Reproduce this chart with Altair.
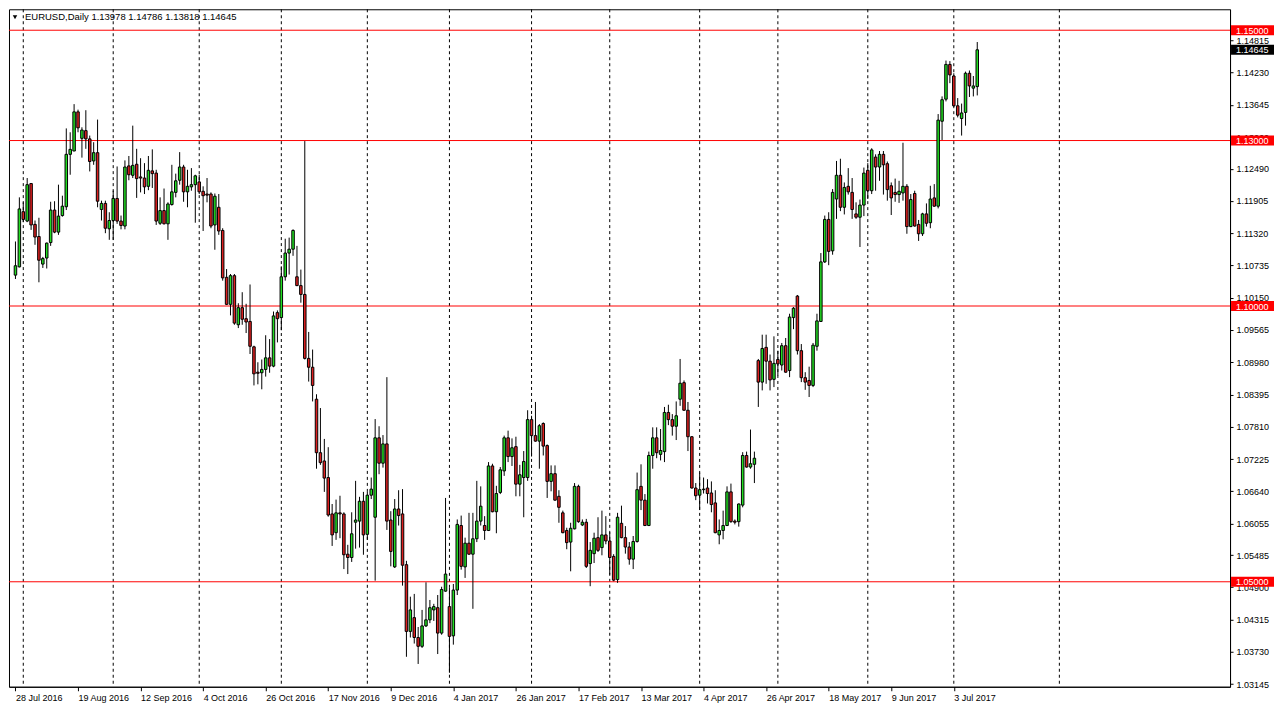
import altair as alt
import pandas as pd

# ---------------- data ----------------
opens = [1.1056,1.1071,1.1171,1.1154,1.1222,1.1148,1.1126,1.1076,1.1087,1.1115,
1.1174,1.1134,1.1164,1.1180,1.1275,1.1281,1.1352,1.1304,1.1318,1.1303,
1.1263,1.1278,1.1175,1.1186,1.1140,1.1155,1.1195,1.1154,1.1145,1.1254,
1.1237,1.1257,1.1234,1.1232,1.1217,1.1245,1.1241,1.1150,1.1173,1.1149,
1.1184,1.1206,1.1228,1.1252,1.1207,1.1216,1.1220,1.1225,1.1208,1.1203,
1.1203,1.1147,1.1179,1.1137,1.1052,1.1003,1.1055,1.0966,1.0997,1.0977,
1.0972,1.0926,1.0880,1.0879,1.0885,1.0906,1.0891,1.0988,1.0979,1.1053,
1.1096,1.1103,1.1053,1.1037,1.1021,1.0905,1.0889,1.0831,1.0734,1.0719,
1.0689,1.0623,1.0589,1.0625,1.0623,1.0550,1.0544,1.0608,1.0610,1.0646,
1.0586,1.0657,1.0617,1.0761,1.0715,1.0750,1.0612,1.0527,1.0632,1.0623,
1.0531,1.0410,1.0435,1.0399,1.0383,1.0420,1.0431,1.0449,1.0453,1.0407,
1.0483,1.0455,1.0402,1.0485,1.0602,1.0527,1.0570,1.0550,1.0578,1.0610,
1.0602,1.0593,1.0710,1.0627,1.0662,1.0701,1.0761,1.0727,1.0745,1.0677,
1.0689,1.0689,1.0794,1.0765,1.0755,1.0787,1.0747,1.0682,1.0696,1.0655,
1.0625,1.0593,1.0572,1.0596,1.0673,1.0603,1.0608,1.0533,1.0551,1.0580,
1.0562,1.0585,1.0574,1.0546,1.0504,1.0606,1.0580,1.0563,1.0541,1.0573,
1.0673,1.0648,1.0602,1.0729,1.0761,1.0731,1.0736,1.0807,1.0794,1.0782,
1.0831,1.0861,1.0811,1.0763,1.0670,1.0657,1.0667,1.0670,1.0661,1.0643,
1.0585,1.0593,1.0602,1.0663,1.0610,1.0609,1.0639,1.0729,1.0708,1.0713,
1.0901,1.0862,1.0925,1.0900,1.0867,1.0903,1.0893,1.0928,1.0883,1.0979,
1.1018,1.0919,1.0870,1.0865,1.0856,1.0927,1.0972,1.1080,1.1157,1.1100,
1.1194,1.1237,1.1179,1.1217,1.1206,1.1167,1.1161,1.1183,1.1246,1.1209,
1.1270,1.1252,1.1275,1.1258,1.1218,1.1206,1.1202,1.1205,1.1217,1.1144,
1.1204,1.1148,1.1131,1.1167,1.1151,1.1196,1.1181,1.1335,1.1375,1.1438,
1.1417,1.1363,1.1340,1.1351,1.1422,1.1395,1.13978]

highs = [1.1117,1.1197,1.1188,1.1232,1.1223,1.1155,1.1160,1.1089,1.1115,1.1189,
1.1190,1.1220,1.1200,1.1322,1.1315,1.1366,1.1356,1.1324,1.1355,1.1309,
1.1297,1.1338,1.1191,1.1191,1.1170,1.1209,1.1253,1.1164,1.1264,1.1272,
1.1327,1.1285,1.1268,1.1259,1.1272,1.1284,1.1247,1.1197,1.1213,1.1188,
1.1256,1.1240,1.1279,1.1256,1.1247,1.1250,1.1238,1.1238,1.1217,1.1232,
1.1206,1.1204,1.1203,1.1141,1.1067,1.1058,1.1058,1.1005,1.1025,1.1004,
1.1039,1.0928,1.0898,1.0903,1.0947,1.0940,1.0990,1.0992,1.1072,1.1122,
1.1124,1.1139,1.1109,1.1066,1.1299,1.0953,1.0921,1.0840,1.0815,1.0759,
1.0744,1.0641,1.0649,1.0656,1.0626,1.0567,1.0626,1.0683,1.0654,1.0663,
1.0663,1.0689,1.0795,1.0782,1.0766,1.0871,1.0628,1.0650,1.0666,1.0668,
1.0538,1.0473,1.0478,1.0418,1.0449,1.0499,1.0467,1.0460,1.0476,1.0491,
1.0652,1.0489,1.0496,1.0613,1.0620,1.0580,1.0625,1.0625,1.0683,1.0673,
1.0619,1.0717,1.0714,1.0674,1.0708,1.0765,1.0774,1.0760,1.0763,1.0712,
1.0737,1.0811,1.0801,1.0826,1.0786,1.0789,1.0749,1.0711,1.0711,1.0666,
1.0629,1.0598,1.0607,1.0679,1.0676,1.0613,1.0614,1.0572,1.0589,1.0617,
1.0629,1.0619,1.0590,1.0550,1.0625,1.0638,1.0601,1.0572,1.0583,1.0698,
1.0713,1.0659,1.0736,1.0780,1.0780,1.0777,1.0817,1.0821,1.0804,1.0827,
1.0904,1.0865,1.0826,1.0764,1.0679,1.0698,1.0689,1.0686,1.0682,1.0666,
1.0613,1.0629,1.0673,1.0678,1.0613,1.0642,1.0735,1.0736,1.0776,1.0736,
1.0904,1.0948,1.0948,1.0912,1.0945,1.0919,1.0933,1.0942,1.0986,1.0998,
1.1020,1.0931,1.0880,1.0890,1.0933,1.0986,1.1096,1.1164,1.1170,1.1212,
1.1263,1.1267,1.1224,1.1250,1.1232,1.1188,1.1193,1.1251,1.1259,1.1286,
1.1275,1.1281,1.1281,1.1262,1.1224,1.1231,1.1227,1.1296,1.1221,1.1203,
1.1209,1.1156,1.1169,1.1186,1.1218,1.1221,1.1348,1.1380,1.1445,1.1444,
1.1422,1.1377,1.1367,1.1425,1.1427,1.1417,1.14786]

lows = [1.1049,1.1070,1.1152,1.1152,1.1138,1.1111,1.1043,1.1069,1.1068,1.1109,
1.1132,1.1129,1.1162,1.1174,1.1238,1.1281,1.1315,1.1269,1.1285,1.1244,
1.1256,1.1179,1.1155,1.1132,1.1120,1.1120,1.1149,1.1139,1.1139,1.1228,
1.1232,1.1196,1.1206,1.1203,1.1210,1.1214,1.1147,1.1147,1.1148,1.1120,
1.1182,1.1197,1.1220,1.1189,1.1179,1.1209,1.1151,1.1203,1.1136,1.1188,
1.1141,1.1102,1.1129,1.1046,1.1002,1.0983,1.0966,1.0960,1.0966,1.0951,
1.0913,1.0856,1.0858,1.0849,1.0872,1.0879,1.0889,1.0934,1.0956,1.1046,
1.1057,1.1091,1.1036,1.1006,1.0903,1.0863,1.0827,1.0705,1.0712,1.0663,
1.0618,1.0565,1.0576,1.0579,1.0523,1.0514,1.0536,1.0560,1.0562,1.0549,
1.0576,1.0650,1.0502,1.0695,1.0707,1.0594,1.0528,1.0525,1.0602,1.0493,
1.0364,1.0399,1.0388,1.0351,1.0380,1.0418,1.0425,1.0429,1.0369,1.0404,
1.0482,1.0335,1.0386,1.0476,1.0522,1.0507,1.0549,1.0451,1.0572,1.0602,
1.0576,1.0592,1.0626,1.0588,1.0659,1.0692,1.0717,1.0710,1.0655,1.0655,
1.0617,1.0683,1.0727,1.0754,1.0705,1.0729,1.0652,1.0664,1.0647,1.0607,
1.0588,1.0559,1.0519,1.0595,1.0607,1.0601,1.0525,1.0492,1.0534,1.0554,
1.0548,1.0568,1.0513,1.0501,1.0498,1.0579,1.0551,1.0531,1.0523,1.0571,
1.0630,1.0601,1.0601,1.0705,1.0724,1.0720,1.0717,1.0784,1.0765,1.0757,
1.0819,1.0810,1.0737,1.0669,1.0648,1.0630,1.0660,1.0642,1.0626,1.0588,
1.0568,1.0577,1.0601,1.0607,1.0604,1.0600,1.0635,1.0707,1.0705,1.0679,
1.0817,1.0847,1.0859,1.0847,1.0853,1.0874,1.0883,1.0879,1.0871,1.0958,
1.0912,1.0862,1.0848,1.0835,1.0853,1.0919,1.0971,1.1078,1.1074,1.1093,
1.1158,1.1172,1.1166,1.1202,1.1158,1.1158,1.1107,1.1163,1.1194,1.1203,
1.1209,1.1227,1.1202,1.1191,1.1165,1.1189,1.1187,1.1191,1.1131,1.1143,
1.1144,1.1118,1.1127,1.1144,1.1141,1.1180,1.1177,1.1301,1.1371,1.1404,
1.1361,1.1342,1.1309,1.1327,1.1379,1.1380,1.13818]

closes = [1.1073,1.1176,1.1157,1.1220,1.1147,1.1125,1.1083,1.1086,1.1114,1.1174,
1.1134,1.1163,1.1181,1.1275,1.1284,1.1352,1.1323,1.1319,1.1303,1.1262,
1.1278,1.1190,1.1186,1.1141,1.1155,1.1195,1.1154,1.1146,1.1252,1.1238,
1.1255,1.1231,1.1232,1.1216,1.1246,1.1240,1.1154,1.1173,1.1149,1.1185,
1.1207,1.1227,1.1252,1.1207,1.1217,1.1220,1.1236,1.1207,1.1200,1.1201,
1.1145,1.1199,1.1136,1.1051,1.1003,1.1055,1.0969,1.0997,1.0976,1.0971,
1.0927,1.0877,1.0878,1.0885,1.0906,1.0891,1.0982,1.0977,1.1053,1.1096,
1.1103,1.1137,1.1037,1.1021,1.0905,1.0889,1.0856,1.0734,1.0716,1.0688,
1.0621,1.0585,1.0625,1.0623,1.0549,1.0544,1.0587,1.0612,1.0646,1.0585,
1.0657,1.0668,1.0761,1.0715,1.0750,1.0610,1.0555,1.0632,1.0620,1.0530,
1.0410,1.0449,1.0399,1.0383,1.0420,1.0431,1.0453,1.0455,1.0407,1.0486,
1.0514,1.0401,1.0485,1.0604,1.0528,1.0570,1.0550,1.0578,1.0610,1.0637,
1.0593,1.0710,1.0627,1.0660,1.0703,1.0761,1.0727,1.0743,1.0677,1.0694,
1.0718,1.0794,1.0765,1.0755,1.0783,1.0746,1.0682,1.0696,1.0648,1.0635,
1.0589,1.0571,1.0597,1.0673,1.0609,1.0608,1.0528,1.0557,1.0579,1.0557,
1.0585,1.0574,1.0544,1.0503,1.0617,1.0580,1.0563,1.0541,1.0573,1.0667,
1.0648,1.0602,1.0729,1.0761,1.0734,1.0738,1.0807,1.0794,1.0782,1.0801,
1.0860,1.0811,1.0763,1.0670,1.0656,1.0667,1.0668,1.0660,1.0640,1.0589,
1.0593,1.0602,1.0663,1.0609,1.0608,1.0641,1.0729,1.0708,1.0714,1.0724,
1.0862,1.0923,1.0900,1.0866,1.0896,1.0895,1.0928,1.0880,1.0980,1.0996,
1.0919,1.0870,1.0862,1.0856,1.0929,1.0973,1.1080,1.1157,1.1099,1.1206,
1.1237,1.1179,1.1215,1.1207,1.1175,1.1161,1.1183,1.1241,1.1209,1.1283,
1.1252,1.1275,1.1256,1.1211,1.1196,1.1202,1.1208,1.1217,1.1144,1.1193,
1.1145,1.1131,1.1167,1.1150,1.1194,1.1181,1.1337,1.1374,1.1438,1.1419,
1.1363,1.1346,1.1350,1.1422,1.1399,1.1399,1.14645]

date_labels = ["28 Jul 2016", "19 Aug 2016", "12 Sep 2016", "4 Oct 2016",
               "26 Oct 2016", "17 Nov 2016", "9 Dec 2016", "4 Jan 2017",
               "26 Jan 2017", "17 Feb 2017", "13 Mar 2017", "4 Apr 2017",
               "26 Apr 2017", "18 May 2017", "9 Jun 2017", "3 Jul 2017"]
label_step = 16
month_start_bars = [2, 25, 47, 68, 90, 111, 132, 152, 175, 195, 218, 240, 267]
price_ticks = [1.14815, 1.14230, 1.13645, 1.13060, 1.12490, 1.11905, 1.11320,
               1.10735, 1.10150, 1.09565, 1.08980, 1.08395, 1.07810, 1.07225,
               1.06640, 1.06055, 1.05485, 1.04900, 1.04315, 1.03730, 1.03145]
levels = [1.15, 1.13, 1.10, 1.05]
symbol = "EURUSD,Daily"

# ---------------- build tables ----------------
n = len(opens)
df = pd.DataFrame({
    "i": list(range(n)),
    "open": opens, "high": highs, "low": lows, "close": closes,
})
df["dir"] = ["up" if c >= o else "down" for o, c in zip(opens, closes)]
grid_df = pd.DataFrame({"i": month_start_bars})
lvl_df = pd.DataFrame({"level": levels})
cur_df = pd.DataFrame({"level": [closes[-1]]})
title_txt = "{}  {:.5f} {:.5f} {:.5f} {:.5f}".format(
    symbol, opens[-1], highs[-1], lows[-1], closes[-1])
title_df = pd.DataFrame({"t": [title_txt]})

W, H = 1222, 678
FONT = "Tahoma, 'Liberation Sans', Arial, sans-serif"
GREEN, RED = "#22DD22", "#DD2020"

xscale = alt.Scale(domain=[-0.375, 309.375], nice=False, zero=False)
yscale = alt.Scale(domain=[1.03097, 1.15380], nice=False, zero=False)

label_js = "[" + ",".join("'%s'" % s for s in date_labels) + "]"
xaxis = alt.Axis(values=[k * label_step for k in range(len(date_labels))],
                 labelExpr=label_js + "[round(datum.value/%d)]" % label_step,
                 orient="bottom", grid=False, tickSize=4, tickColor="black",
                 domainColor="black", labelAlign="left", labelPadding=3,
                 labelFont=FONT, labelFontSize=9, labelColor="black",
                 labelOverlap=False, labelFlush=False, title=None)
yaxis = alt.Axis(values=price_ticks, format=".5f", orient="right", grid=False,
                 tickSize=3, tickColor="black", domainColor="black",
                 labelPadding=3, labelFont=FONT, labelFontSize=9,
                 labelColor="black", labelOverlap=False, labelFlush=False,
                 title=None)


def X(field):
    return alt.X(field, type="quantitative", scale=xscale, axis=xaxis)


def Y(field):
    return alt.Y(field, type="quantitative", scale=yscale, axis=yaxis)


vgrid = alt.Chart(grid_df).mark_rule(
    color="black", strokeWidth=1, strokeDash=[3, 3]).encode(x=X("i"))

hlines = alt.Chart(lvl_df).mark_rule(color="#FF0000", strokeWidth=1).encode(
    y=Y("level"))

wicks = alt.Chart(df).mark_rule(color="black", strokeWidth=1).encode(
    x=X("i"), y=Y("low"), y2="high")

bodies = alt.Chart(df).mark_bar(size=2.5, stroke="black", strokeWidth=1).encode(
    x=X("i"), y=Y("open"), y2="close",
    color=alt.Color("dir:N", scale=alt.Scale(domain=["up", "down"],
                                             range=[GREEN, RED]), legend=None))

lvl_box = alt.Chart(lvl_df).mark_rect(color="#FF0000", yOffset=-5, y2Offset=5).encode(
    y=Y("level"), y2="level", x=alt.value(W + 1), x2=alt.value(W + 44))
lvl_txt = alt.Chart(lvl_df).mark_text(
    align="left", baseline="middle", color="white", font=FONT, fontSize=9, dy=0.5
).encode(y=Y("level"), x=alt.value(W + 6), text=alt.Text("level:Q", format=".5f"))

cur_box = alt.Chart(cur_df).mark_rect(color="black", yOffset=-5, y2Offset=5).encode(
    y=Y("level"), y2="level", x=alt.value(W + 1), x2=alt.value(W + 44))
cur_txt = alt.Chart(cur_df).mark_text(
    align="left", baseline="middle", color="white", font=FONT, fontSize=9, dy=0.5
).encode(y=Y("level"), x=alt.value(W + 6), text=alt.Text("level:Q", format=".5f"))

title_mark = alt.Chart(title_df).mark_text(
    align="left", baseline="middle", color="black", font=FONT, fontSize=9.5
).encode(x=alt.value(16), y=alt.value(8), text="t:N")
tri = alt.Chart(title_df).mark_point(
    shape="triangle-down", filled=True, color="black", size=20, opacity=1
).encode(x=alt.value(6), y=alt.value(8))

chart = alt.layer(
    vgrid, hlines, wicks, bodies, lvl_box, lvl_txt, cur_box, cur_txt,
    title_mark, tri
).properties(
    width=W, height=H, padding=0, background="white"
).configure_view(stroke="black", strokeWidth=1)

chart.save("out.html", embed_options={"renderer": "svg", "actions": False})
